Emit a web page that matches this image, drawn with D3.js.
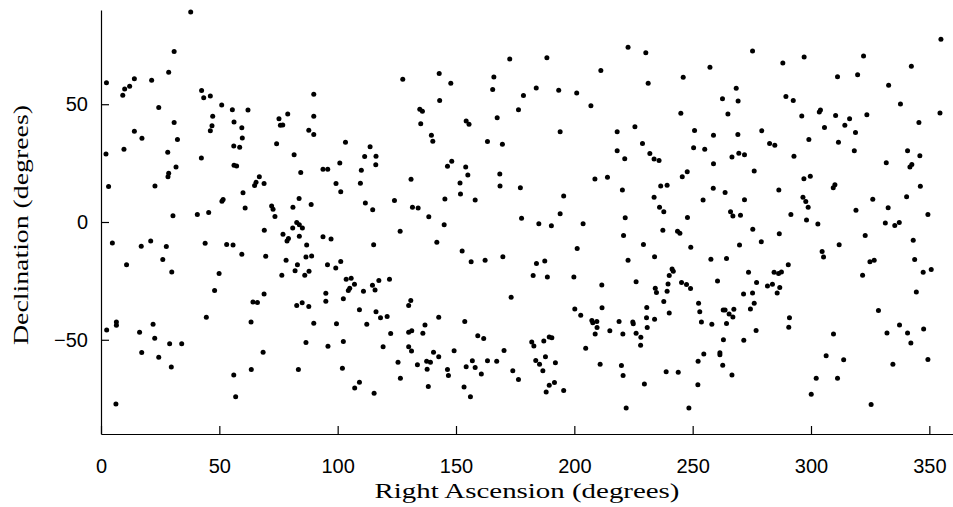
<!DOCTYPE html>
<html>
<head>
<meta charset="utf-8">
<script src="https://cdn.jsdelivr.net/npm/d3@7"></script>
<style>
  body { margin: 0; background: #fff; }
  .tick text { font-family: 'Liberation Sans', Arial, sans-serif; font-size: 20px; fill: #000; }
  .axis-label { font-family: 'Liberation Serif', 'DejaVu Serif', serif; font-size: 21px; fill: #000; }
</style>
</head>
<body>
<div class="canvas-scatter"></div>
<script>
// star positions [right ascension, declination] in degrees
const northBand = [
  [37.9, 89.2], [30.9, 72.4], [28.6, 63.6], [14.1, 60.8], [21.4, 60.2], [2.3, 59.1], [12.1, 57.6], [10.0, 56.5],
  [9.2, 53.8], [42.5, 55.8], [43.4, 52.7], [46.2, 53.5], [51.0, 49.7], [24.4, 48.6], [55.5, 47.7], [62.1, 47.6],
  [47.2, 44.9], [78.9, 45.9], [75.2, 43.8], [75.8, 41.1], [76.8, 41.2], [56.2, 42.5], [46.9, 40.9], [46.2, 38.7],
  [59.5, 40.0], [30.9, 42.2], [14.1, 38.5], [17.3, 35.6], [32.3, 35.0], [59.7, 35.7], [74.2, 33.2], [56.1, 32.3],
  [58.6, 31.7], [9.7, 30.9], [28.2, 29.6],
  [87.8, 39.0], [89.9, 54.2], [89.9, 44.9], [89.9, 37.1], [103.3, 33.9], [113.7, 31.9], [127.5, 60.6], [142.9, 63.0],
  [147.8, 58.9], [143.1, 51.6], [134.7, 47.9], [135.8, 47.0], [135.1, 41.7], [139.6, 36.8], [140.2, 34.3], [154.3, 42.9],
  [155.5, 41.5], [163.3, 34.2], [169.6, 33.0], [172.7, 69.2], [166.0, 61.6], [165.5, 56.2], [167.4, 44.3],
  [176.4, 47.7], [178.5, 53.7], [183.9, 56.9], [188.4, 69.7], [193.4, 55.9], [201.0, 54.8], [207.0, 49.3], [211.2, 64.3],
  [222.7, 74.2], [230.2, 71.8], [231.2, 58.9], [194.0, 38.3], [218.1, 38.3], [225.6, 40.4], [218.1, 30.2], [228.8, 33.3],
  [246.0, 61.5], [257.3, 65.7], [245.0, 46.2], [250.8, 38.8], [258.8, 36.8], [250.4, 31.5], [255.1, 30.9], [262.6, 52.3],
  [264.9, 45.9],
  [268.4, 56.8], [269.2, 51.4], [275.3, 72.6], [288.1, 67.5], [297.1, 70.1], [289.4, 53.3], [292.5, 51.6], [296.1, 45.0],
  [303.5, 46.7], [304.0, 47.6], [310.4, 45.2], [311.2, 61.7], [319.7, 62.5], [322.2, 70.5], [316.3, 43.8], [314.3, 41.1],
  [323.6, 45.5], [305.7, 40.1], [318.8, 38.0], [299.1, 35.0], [311.6, 33.9], [279.2, 38.7], [269.1, 37.1], [282.5, 33.3],
  [284.7, 32.6], [318.3, 30.2], [332.8, 58.1], [337.8, 50.1], [342.4, 66.1], [354.9, 77.6], [354.5, 46.3], [345.6, 42.2],
  [340.8, 30.2]
];

const midBand = [
  [2.1, 28.9], [81.6, 28.5], [42.4, 27.2], [31.7, 23.4], [56.2, 24.1], [57.3, 23.8], [28.6, 20.7], [28.3, 19.2],
  [84.4, 21.0], [3.2, 15.1], [22.8, 15.3], [66.9, 19.2], [65.5, 16.9], [68.9, 16.3], [64.9, 15.5], [60.0, 12.4],
  [51.6, 9.5], [51.1, 8.8], [83.7, 10.0], [60.9, 5.9], [72.1, 6.8], [72.7, 5.4], [81.1, 6.3], [73.5, 2.3],
  [30.4, 2.7], [40.7, 3.2], [45.5, 4.0], [82.7, -0.2], [83.8, -1.2], [85.1, -2.5], [81.0, -2.6], [69.0, -3.5],
  [76.9, -5.2], [79.2, -7.0], [78.6, -8.1], [83.8, -6.0], [86.9, -9.8], [4.8, -8.9], [17.0, -10.3], [21.0, -8.1],
  [27.6, -10.4], [44.0, -9.0], [53.1, -9.6], [55.8, -9.8], [59.5, -13.7], [69.6, -14.5], [86.6, -14.9], [26.1, -15.9],
  [78.2, -16.2], [10.8, -18.1], [83.0, -18.1], [29.9, -21.2], [49.9, -21.9], [76.4, -22.6], [82.0, -20.7], [86.1, -22.6],
  [48.0, -29.1],
  [88.8, 7.4], [93.8, 22.4], [95.8, 22.4], [100.9, 25.1], [111.4, 27.8], [116.2, 27.9], [116.1, 24.3], [110.0, 22.0],
  [99.3, 16.3], [109.6, 16.5], [101.3, 12.8], [111.7, 8.1], [114.8, 5.2], [124.0, 9.1], [131.0, 18.2], [131.6, 6.3],
  [134.0, 5.9], [138.5, 2.2], [145.0, -1.2], [126.4, -3.9], [141.9, -8.6], [145.3, 9.8], [146.4, 23.7], [148.2, 25.8],
  [154.1, 23.4], [155.0, 19.9], [151.7, 16.6], [151.9, 11.9], [158.1, 9.3], [168.5, 20.4], [168.6, 15.3], [93.8, -6.3],
  [97.2, -7.2], [115.2, -9.7], [89.0, -14.4], [87.9, -20.9], [95.7, -18.1], [99.2, -19.5], [101.3, -16.8], [152.6, -12.3],
  [156.4, -16.9], [162.3, -16.2], [169.8, -14.8], [103.6, -24.3], [105.7, -23.9], [107.1, -26.4], [105.1, -28.1], [104.5, -29.1],
  [110.9, -29.4], [114.7, -26.8], [117.4, -24.8], [121.9, -24.3], [115.8, -28.9],
  [231.9, 29.1], [221.3, 26.9], [233.7, 26.7], [235.8, 26.1], [258.8, 24.7], [266.6, 27.6], [177.2, 14.5], [177.7, 1.6],
  [195.5, 11.0], [208.7, 18.3], [214.0, 19.0], [220.3, 13.6], [233.7, 10.5], [236.5, 15.3], [239.2, 15.6], [245.6, 19.2],
  [247.7, 21.3], [258.7, 14.3], [263.7, 12.5], [254.4, 9.3], [236.0, 6.3], [237.8, 4.3], [266.0, 4.4], [194.0, 3.5],
  [185.0, -0.7], [190.3, -1.6], [203.7, -0.7], [221.5, 1.8], [247.8, 1.9], [237.4, -3.5], [243.6, -3.9], [244.6, -4.8],
  [220.8, -5.7], [229.2, -9.6], [249.2, -10.7], [201.2, -11.3], [184.0, -17.6], [187.5, -16.6], [182.6, -22.7], [188.6, -23.4],
  [199.8, -23.3], [211.6, -26.7], [222.7, -16.2], [233.9, -14.8], [257.7, -15.8], [264.3, -15.5], [241.3, -19.9], [241.8, -20.9],
  [240.1, -22.7], [226.1, -25.4], [239.6, -26.3], [245.3, -25.7], [247.4, -26.5], [249.1, -28.2], [260.5, -25.0], [234.2, -28.1],
  [234.7, -29.9], [239.2, -29.4],
  [269.5, 29.2], [271.9, 28.6], [292.8, 27.9], [346.0, 28.1], [331.8, 25.2], [341.8, 23.4], [342.6, 24.4], [276.0, 21.7],
  [297.0, 18.4], [299.7, 19.4], [286.4, 13.6], [309.4, 14.5], [310.1, 15.8], [346.2, 15.2], [271.9, 9.4], [296.6, 10.5],
  [297.8, 8.7], [298.8, 6.3], [326.1, 9.7], [340.4, 10.7], [332.6, 6.0], [319.0, 5.0], [267.0, 2.6], [270.2, 2.9],
  [291.5, 3.2], [298.1, 0.9], [302.9, -0.9], [349.4, 3.2], [331.4, -0.4], [335.4, -1.5], [337.3, -0.2], [275.4, -3.1],
  [286.6, -5.0], [279.0, -8.4], [322.9, -5.7], [269.8, -9.8], [311.9, -9.7], [343.2, -7.7], [304.7, -12.5], [305.3, -14.9],
  [324.9, -16.9], [326.7, -16.2], [343.8, -15.9], [290.4, -18.1], [273.6, -21.3], [284.4, -21.3], [286.3, -21.9], [287.5, -21.2],
  [321.8, -22.6], [347.4, -21.3], [350.8, -20.2], [277.0, -25.7], [281.6, -27.2], [283.7, -26.4], [286.8, -27.8], [344.5, -29.7]
];

const southBand = [
  [68.9, -30.6], [64.2, -34.0], [66.1, -34.2], [82.7, -35.5], [85.0, -34.3], [2.4, -45.8], [6.5, -42.5], [6.5, -43.8],
  [16.3, -46.8], [22.0, -43.4], [44.5, -40.4], [63.4, -42.5], [22.7, -49.3], [17.2, -55.4], [29.0, -51.7], [34.1, -51.7],
  [24.4, -57.4], [29.7, -61.6], [68.5, -55.3], [86.6, -51.2], [63.5, -62.6], [83.4, -62.6], [56.1, -64.9], [56.9, -74.2],
  [6.3, -77.3],
  [95.0, -30.2], [87.8, -35.9], [95.0, -33.6], [102.4, -32.6], [89.9, -43.0], [99.5, -43.2], [95.9, -52.7], [102.4, -50.7],
  [109.2, -37.3], [116.2, -38.1], [118.1, -40.7], [120.9, -40.1], [112.3, -43.4], [122.4, -47.3], [130.0, -35.5], [130.9, -33.3],
  [130.0, -46.8], [131.3, -46.2], [136.0, -47.2], [136.9, -43.7], [142.7, -40.4], [153.7, -42.2], [173.3, -31.9], [159.2, -48.3],
  [161.7, -49.5], [130.0, -53.0], [131.2, -54.8], [119.2, -53.0], [140.5, -55.3], [142.7, -57.2], [149.2, -54.7], [170.3, -54.6],
  [125.5, -59.5], [133.7, -60.6], [137.6, -59.1], [139.2, -59.5], [137.8, -62.5], [146.4, -62.6], [146.8, -65.2], [154.3, -61.5],
  [156.9, -58.9], [158.1, -61.8], [163.3, -58.9], [167.2, -59.1], [160.7, -64.5], [174.0, -63.2], [102.0, -62.1], [126.5, -66.3],
  [109.2, -68.0], [107.2, -70.5], [115.4, -72.7], [138.3, -69.8], [153.4, -70.1], [156.1, -74.2],
  [176.4, -66.9], [200.2, -36.9], [202.7, -39.6], [211.7, -36.4], [207.4, -41.8], [207.8, -42.8], [209.5, -42.2], [209.6, -44.8],
  [208.8, -47.5], [215.0, -46.2], [218.9, -42.2], [220.5, -47.5], [224.7, -42.4], [224.9, -43.2], [226.1, -47.2], [228.1, -48.9],
  [228.0, -52.3], [230.6, -36.3], [230.5, -40.7], [230.8, -44.8], [233.9, -41.3], [237.8, -33.8], [240.1, -38.6], [252.5, -34.5],
  [253.0, -38.1], [253.7, -42.5], [258.1, -43.4], [262.9, -37.4], [263.7, -37.4], [265.4, -39.1], [264.3, -43.1], [263.0, -50.0],
  [261.5, -55.5], [261.5, -56.4], [254.7, -56.0], [252.3, -59.1], [262.7, -60.8], [266.6, -64.9], [252.2, -69.1], [248.4, -79.0],
  [238.8, -63.6], [243.9, -63.8], [229.6, -68.8], [219.9, -60.9], [220.6, -65.2], [210.9, -60.4], [204.8, -53.6], [221.9, -79.0],
  [182.0, -50.9], [182.9, -52.6], [187.1, -50.5], [189.4, -48.8], [190.5, -49.1], [183.7, -58.8], [185.3, -60.4], [187.8, -57.2],
  [192.0, -59.8], [186.7, -63.2], [189.4, -69.3], [191.6, -68.1], [188.1, -72.2], [195.5, -71.5],
  [271.5, -30.6], [275.3, -30.1], [285.7, -30.1], [267.4, -37.0], [267.0, -40.3], [274.4, -36.9], [276.0, -34.5], [276.8, -46.1],
  [271.6, -50.2], [290.9, -40.7], [290.6, -44.7], [328.5, -37.6], [337.4, -43.7], [332.1, -47.1], [340.8, -47.1], [342.2, -51.4],
  [347.6, -45.4], [349.4, -58.4], [334.6, -60.4], [309.5, -47.5], [306.4, -56.8], [313.8, -58.5], [302.2, -66.3], [311.2, -66.3],
  [300.1, -73.1], [325.4, -77.5]
];

const xTicks = [0, 50, 100, 150, 200, 250, 300, 350];
const yTicks = [-50, 0, 50];

const stars = northBand.concat(midBand, southBand);

const width = 953;
const height = 507;
const margin = { top: 10, right: 0, bottom: 73, left: 101 };

const svg = d3
  .select('.canvas-scatter')
  .append('svg')
  .attr('width', width)
  .attr('height', height);

const x = d3.scaleLinear().domain([0, 360]).range([margin.left, width - margin.right]);
const y = d3.scaleLinear().domain([-90, 90]).range([height - margin.bottom, margin.top]);

const xAxis = d3.axisBottom(x).tickValues(xTicks).tickSizeInner(-8).tickSizeOuter(0).tickPadding(25);
const yAxis = d3.axisLeft(y).tickValues(yTicks).tickSizeInner(-8).tickSizeOuter(0).tickPadding(13).tickFormat(d => (d < 0 ? '\u2212' + Math.abs(d) : d));

const xAxisGroup = svg
  .append('g')
  .attr('class', 'x-axis')
  .attr('transform', `translate(0, ${height - margin.bottom})`)
  .call(xAxis);

const yAxisGroup = svg
  .append('g')
  .attr('class', 'y-axis')
  .attr('transform', `translate(${margin.left}, 0)`)
  .call(yAxis);

svg.selectAll('.domain, .tick line').attr('stroke', '#000').attr('stroke-width', 1.2);
svg.selectAll('.tick text').attr('fill', '#000');

svg
  .append('g')
  .selectAll('circle')
  .data(stars)
  .enter()
  .append('circle')
  .attr('cx', d => x(d[0]))
  .attr('cy', d => y(d[1]))
  .attr('r', 2.5)
  .attr('fill', '#000');

svg
  .append('text')
  .attr('class', 'axis-label')
  .attr('x', 527)
  .attr('y', 498)
  .attr('text-anchor', 'middle')
  .attr('textLength', 305)
  .attr('lengthAdjust', 'spacingAndGlyphs')
  .text('Right Ascension (degrees)');

svg
  .append('text')
  .attr('class', 'axis-label')
  .attr('transform', 'translate(28, 225) rotate(-90)')
  .attr('text-anchor', 'middle')
  .attr('textLength', 240)
  .attr('lengthAdjust', 'spacingAndGlyphs')
  .text('Declination (degrees)');
</script>
</body>
</html>
